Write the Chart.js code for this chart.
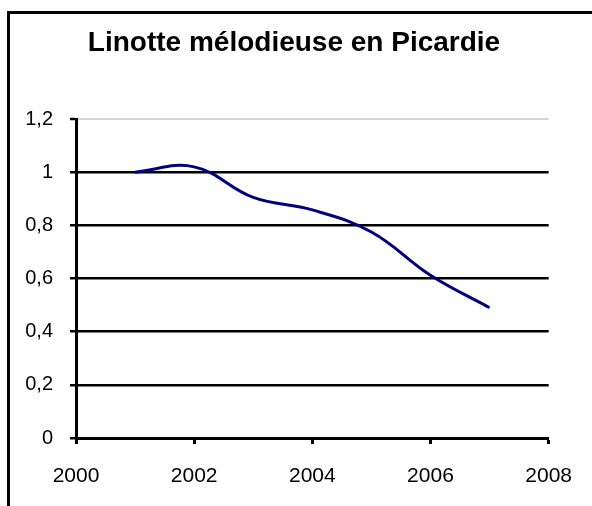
<!DOCTYPE html>
<html>
<head>
<meta charset="utf-8">
<script src="https://cdn.jsdelivr.net/npm/chart.js@4"></script>
<style>
  html, body { margin: 0; padding: 0; background: #fff; }
  #wrap { position: relative; width: 592px; height: 506px; overflow: hidden; }
  #frame {
    position: absolute; left: 7px; top: 11px; width: 700px; height: 700px;
    border-left: 3px solid #000; border-top: 3px solid #000; pointer-events: none;
  }
</style>
</head>
<body>
<div id="wrap">
  <canvas id="chart" width="592" height="506"></canvas>
  <div id="frame"></div>
</div>
<script>
// données
const years = [2001, 2002, 2003, 2004, 2005, 2006, 2007];
const indice = [1.0, 1.02, 0.905, 0.858, 0.775, 0.612, 0.49];
const xTicks = [2000, 2002, 2004, 2006, 2008];
const yTicks = [0, 0.2, 0.4, 0.6, 0.8, 1, 1.2];

const points = years.map((y, i) => ({ x: y, y: indice[i] }));
const fmt = v => String(Math.round(v * 10) / 10).replace('.', ',');

new Chart(document.getElementById('chart').getContext('2d'), {
    type: 'line',
    data: {
        datasets: [{
            label: 'Linotte mélodieuse',
            data: points,
            borderColor: '#000080',
            borderWidth: 3,
            tension: 0.4,
            pointRadius: 0,
            fill: false
        }]
    },
    options: {
        responsive: false,
        animation: false,
        // petite marge droite : le titre reste centré vers x=294
        layout: { padding: { left: 0, right: 4, top: 0, bottom: 0 } },
        plugins: {
            legend: { display: false },
            tooltip: { enabled: false },
            title: {
                display: true,
                text: 'Linotte mélodieuse en Picardie',
                color: '#000',
                font: { family: '"Liberation Sans", Arial, sans-serif', size: 28, weight: 'bold', lineHeight: 1.2 },
                padding: { top: 26, bottom: 59.4 }
            }
        },
        scales: {
            x: {
                type: 'linear',
                min: xTicks[0],
                max: xTicks[xTicks.length - 1],
                afterBuildTicks: s => { s.ticks = xTicks.map(v => ({ value: v })); },
                afterFit: s => { s.height = 68; },
                border: { color: '#000', width: 3 },
                grid: { drawOnChartArea: false, tickLength: 6, tickColor: '#000', tickWidth: 3 },
                ticks: {
                    color: '#000',
                    padding: 20,
                    maxRotation: 0,
                    font: { family: '"Liberation Sans", Arial, sans-serif', size: 21 },
                    callback: v => String(v)
                }
            },
            y: {
                min: 0,
                max: 1.2,
                afterBuildTicks: s => { s.ticks = yTicks.map(v => ({ value: v })); },
                afterFit: s => { s.width = 76; },
                border: { color: '#000', width: 3 },
                grid: {
                    color: c => (c.tick && c.tick.value === 1.2) ? '#d4d4d4' : '#000',
                    lineWidth: c => (c.tick && c.tick.value === 1.2) ? 2 : 2.5,
                    tickLength: 6,
                    tickColor: '#000',
                    tickWidth: 2.5
                },
                ticks: {
                    color: '#000',
                    padding: 17,
                    font: { family: '"Liberation Sans", Arial, sans-serif', size: 20 },
                    callback: v => fmt(v)
                }
            },
            // axe vide à droite, sert seulement à réserver l'espace blanc
            yRight: {
                position: 'right',
                afterFit: s => { s.width = 39; },
                border: { display: false },
                grid: { display: false },
                ticks: { display: false }
            }
        }
    }
});
</script>
</body>
</html>
